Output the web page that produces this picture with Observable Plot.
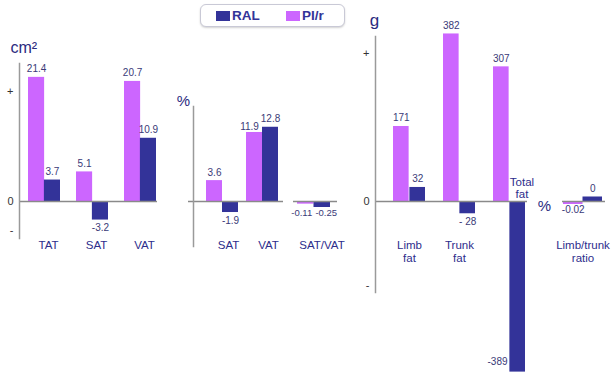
<!DOCTYPE html>
<html><head><meta charset="utf-8">
<script src="https://cdn.jsdelivr.net/npm/d3@7"></script>
<script src="https://cdn.jsdelivr.net/npm/@observablehq/plot@0.6"></script>
<style>
body{margin:0;background:#fff;}
#chart{position:relative;width:614px;height:376px;overflow:hidden;font-family:"Liberation Sans",Arial,sans-serif;}
#chart svg{position:absolute;top:0;}
.legend{position:absolute;left:200px;top:4px;width:143px;height:21px;border:1px solid #c9c9d6;border-radius:6px;box-shadow:0 1px 2px rgba(0,0,0,0.18);background:#fff;}
.item{position:absolute;top:0;height:21px;display:flex;align-items:center;font-weight:bold;font-size:13.5px;color:#333399;}
.sw{display:inline-block;width:14px;height:10px;margin-right:2px;}
</style></head><body><div id="chart"></div>
<script>
// ---- data ----
const series = ["RAL", "PI/r"];
const seriesColors = ["#333399", "#cc66ff"];

const areaCats = ["TAT", "SAT", "VAT"];          // cm²
const areaPIr = [21.4, 5.1, 20.7];
const areaRAL = [3.7, -3.2, 10.9];

const pctCats = ["SAT", "VAT"];                  // %
const pctPIr = [3.6, 11.9];
const pctRAL = [-1.9, 12.8];

const svCats = ["SAT/VAT"];
const svPIr = [-0.11];
const svRAL = [-0.25];

const fatCats = ["Limb\nfat", "Trunk\nfat", "Total\nfat"];   // g
const fatPIr = [171, 382, 307];
const fatRAL = [32, -28, -389];
const fatRALLabels = ["32", "- 28", "-389"];

const ltCats = ["Limb/trunk\nratio"];            // %
const ltPIr = [-0.02];
const ltRAL = [0.03];          // small bar as drawn
const ltRALLabels = ["0"];

const tickLabels = ["+", "0", "-"];

// ---- helpers ----
const color = s => seriesColors[series.indexOf(s)];
const TEXT_VAL = "#3a3a78", TEXT_CAT = "#2d2d8c", TEXT_UNIT = "#2b2b80";
const VAL_SIZE = 10, CAT_SIZE = 11.5;

function rowsOf(cats, pir, ral, pirLabels, ralLabels) {
  const rows = [];
  cats.forEach((c, i) => {
    rows.push({cat: c, series: "PI/r", value: pir[i], label: pirLabels ? pirLabels[i] : String(pir[i])});
    rows.push({cat: c, series: "RAL", value: ral[i], label: ralLabels ? ralLabels[i] : String(ral[i])});
  });
  return rows;
}

function panel(cfg) {
  const bw = d3.scaleBand(cfg.cats, cfg.xRange).paddingInner(cfg.pad).paddingOuter(0).bandwidth();
  const q = bw / 4;
  const rows = cfg.rows;
  const special = cfg.special || (() => false);
  const norm = rows.filter(d => !special(d));
  const valSize = cfg.valSize || VAL_SIZE;
  const marks = [];
  marks.push(Plot.barY(rows.filter(d => d.series === "PI/r"), {x: "cat", y: "value", fill: color("PI/r"), insetRight: bw / 2}));
  marks.push(Plot.barY(rows.filter(d => d.series === "RAL"), {x: "cat", y: "value", fill: color("RAL"), insetLeft: bw / 2}));
  marks.push(Plot.ruleY([0], {stroke: "#8a8a8a", strokeWidth: 1.5, insetLeft: cfg.zeroInsetLeft || 0}));
  if (cfg.axisLine) marks.push(Plot.frame({anchor: "left", stroke: "#9a9a9a", strokeWidth: 1.5}));
  if (cfg.ticks) marks.push(Plot.axisY({ticks: cfg.ticks, tickFormat: d => tickLabels[cfg.ticks.indexOf(d)], tickSize: 0, tickPadding: 6, fontSize: 11, fill: "#333", label: null}));
  for (const s of series) {
    const dx = s === "PI/r" ? -q - (cfg.labelSpread || 0) : q + (cfg.labelSpread || 0);
    const sub = norm.filter(d => d.series === s);
    if (cfg.labelsAtZero) {
      marks.push(Plot.text(sub, {x: "cat", y: () => 0, text: "label", dx, dy: 8, lineAnchor: "top", fontSize: valSize, fill: TEXT_VAL}));
    } else {
      marks.push(Plot.text(sub.filter(d => d.value >= 0), {x: "cat", y: "value", text: "label", dx, dy: -5, lineAnchor: "bottom", fontSize: valSize, fill: TEXT_VAL}));
      marks.push(Plot.text(sub.filter(d => d.value < 0), {x: "cat", y: "value", text: "label", dx, dy: cfg.negDy ?? 4, lineAnchor: "top", fontSize: valSize, fill: TEXT_VAL}));
    }
  }
  const catSpecial = cfg.catSpecial || [];
  marks.push(Plot.text(cfg.cats.filter(c => !catSpecial.includes(c)), {x: d => d, y: () => 0, text: d => d, lineAnchor: "top", dy: 38.5, dx: cfg.catDx || 0, fontSize: CAT_SIZE, lineHeight: 1.1, fill: TEXT_CAT}));
  if (cfg.unit) marks.push(Plot.text([cfg.unit], {text: d => d, textAnchor: "middle", lineAnchor: "middle", ...cfg.unitPos, fontSize: cfg.unitSize || 15, fill: TEXT_UNIT}));
  if (cfg.extra) marks.push(...cfg.extra(q, rows));
  const svg = Plot.plot({
    width: cfg.width, height: 376,
    marginLeft: cfg.mL, marginRight: cfg.mR, marginTop: cfg.mT, marginBottom: cfg.mB,
    x: {type: "band", domain: cfg.cats, range: cfg.xRange, paddingInner: cfg.pad, paddingOuter: 0, axis: null},
    y: cfg.ticks ? {domain: cfg.yDomain} : {domain: cfg.yDomain, axis: null},
    style: {background: "transparent", fontFamily: "Liberation Sans, Arial, sans-serif", overflow: "visible"},
    marks
  });
  svg.style.left = cfg.left + "px";
  document.getElementById("chart").appendChild(svg);
}

// Panel 1: cm²
panel({
  left: 0, width: 170, mL: 19, mR: 13, mT: 63, mB: 138,
  yDomain: [-6.38, 23.79], xRange: [28, 156], pad: 0.34,
  cats: areaCats, rows: rowsOf(areaCats, areaPIr, areaRAL),
  axisLine: true, ticks: [19, 0, -5], catDx: 4,
  unit: "cm²", unitSize: 16, unitPos: {frameAnchor: "top-left", textAnchor: "start", dx: -9, dy: -16}
});

// Panel 2: %
panel({
  left: 170, width: 120, mL: 23, mR: 7, mT: 106, mB: 130,
  yDomain: [-7.76, 16.38], xRange: [36, 108], pad: 0.2, zeroInsetLeft: -5,
  cats: pctCats, rows: rowsOf(pctCats, pctPIr, pctRAL),
  axisLine: true, catDx: 6,
  special: d => d.cat === "VAT" && d.series === "PI/r",
  extra: (q, rows) => [Plot.text(rows.filter(d => d.cat === "VAT" && d.series === "PI/r"), {x: "cat", y: "value", text: "label", dx: -q - 5, dy: -2, lineAnchor: "bottom", fontSize: VAL_SIZE, fill: TEXT_VAL})],
  unit: "%", unitPos: {frameAnchor: "top-left", dx: -10, dy: -5}
});

// Panel 2b: SAT/VAT
panel({
  left: 285, width: 60, mL: 8, mR: 8, mT: 106, mB: 130,
  yDomain: [-1.875, 3.958], xRange: [12, 45], pad: 0,
  cats: svCats, rows: rowsOf(svCats, svPIr, svRAL),
  labelsAtZero: true, labelSpread: 4, valSize: 9.5, catDx: 8
});

// Panel 3: g
panel({
  left: 345, width: 190, mL: 30, mR: 8, mT: 36, mB: 84,
  yDomain: [-207.5, 376.2], xRange: [47, 181], pad: 0.353,
  cats: fatCats, rows: rowsOf(fatCats, fatPIr, fatRAL, null, fatRALLabels),
  axisLine: true, ticks: [337, 0, -191], catDx: 0,
  special: d => d.cat === "Total\nfat" && d.series === "RAL",
  catSpecial: ["Total\nfat"],
  extra: (q, rows) => [
    Plot.text(rows.filter(d => d.cat === "Total\nfat" && d.series === "RAL"), {x: "cat", y: "value", text: "label", textAnchor: "end", dx: -2, dy: -7, lineAnchor: "bottom", fontSize: VAL_SIZE, fill: TEXT_VAL}),
    Plot.text(["Total\nfat"], {x: d => d, y: () => 0, text: d => d, lineAnchor: "bottom", dy: -3, dx: 12.5, fontSize: CAT_SIZE, lineHeight: 1.1, fill: TEXT_CAT})
  ],
  unit: "g", unitSize: 17, unitPos: {frameAnchor: "top-left", dx: -1, dy: -16}
});

// Panel 4: Limb/trunk ratio %
panel({
  left: 535, width: 79, mL: 27, mR: 9, mT: 36, mB: 84,
  yDomain: [-0.6067, 1.1], xRange: [28, 67], pad: 0,
  cats: ltCats, rows: rowsOf(ltCats, ltPIr, ltRAL, null, ltRALLabels),
  negDy: 1, catDx: 0,
  unit: "%", unitPos: {frameAnchor: "left", y: () => 0, dx: -18, dy: 5}
});

// Legend
const legend = d3.select("#chart").append("div").attr("class", "legend");
const itemLeft = [15, 85];
series.forEach((s, i) => {
  const it = legend.append("div").attr("class", "item").style("left", itemLeft[i] + "px");
  it.append("span").attr("class", "sw").style("background", seriesColors[i]);
  it.append("span").text(s);
});
</script></body></html>
